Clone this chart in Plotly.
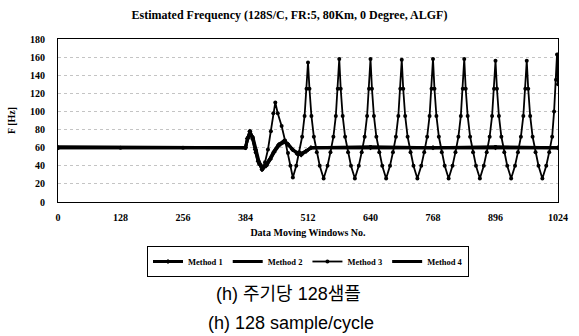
import plotly.graph_objects as go

# ---- data ----
m3_x = [0, 128, 256, 384, 388, 393, 398, 405, 412, 418, 424, 430, 436, 441, 445,
        450, 458, 465, 471, 476, 481,
        488, 494, 500, 505, 509, 512, 515, 519, 524, 530, 536, 544,
        552, 558, 564, 569, 573, 576, 579, 583, 588, 594, 600, 608,
        616, 622, 628, 633, 637, 640, 643, 647, 652, 658, 664, 672,
        680, 686, 692, 697, 701, 704, 707, 711, 716, 722, 728, 736,
        744, 750, 756, 761, 765, 768, 771, 775, 780, 786, 792, 800,
        808, 814, 820, 825, 829, 832, 835, 839, 844, 850, 856, 864,
        872, 878, 884, 889, 893, 896, 899, 903, 908, 914, 920, 928,
        936, 942, 948, 953, 957, 960, 963, 967, 972, 978, 984, 992,
        1000, 1006, 1012, 1016, 1020, 1022, 1024]
m3_y = [60, 60, 60, 60, 70, 78, 70, 55, 42, 36, 44, 58, 78, 98, 110,
        98, 84, 68, 54, 40, 27,
        40, 55, 72, 95, 125, 154, 125, 95, 72, 55, 40, 26,
        40, 55, 72, 95, 125, 158, 125, 95, 72, 55, 40, 26,
        40, 55, 72, 95, 125, 158, 125, 95, 72, 55, 40, 26,
        40, 55, 72, 95, 125, 157, 125, 95, 72, 55, 40, 26,
        40, 55, 72, 95, 125, 158, 125, 95, 72, 55, 40, 26,
        40, 55, 72, 95, 125, 158, 125, 95, 72, 55, 40, 26,
        40, 55, 72, 95, 125, 156, 125, 95, 72, 55, 40, 26,
        40, 55, 72, 95, 125, 156, 125, 95, 72, 55, 40, 26,
        40, 55, 72, 100, 135, 163, 130]

m1_x = [0, 384, 388, 393, 398, 404, 410, 418, 426, 434, 442, 452,
        462, 470, 480, 490, 498, 508, 518, 640, 768, 896, 1024]
m1_y = [60, 60, 70, 78, 72, 58, 45, 36, 40, 47, 55, 63,
        67, 64, 58, 53, 52, 56, 60, 60, 60, 60, 60]

m2_x = [0, 384, 389, 394, 400, 406, 412, 420, 428, 436, 444, 454,
        464, 472, 482, 492, 500, 510, 520, 640, 768, 896, 1024]
m2_y = [60, 60, 71, 76, 70, 56, 44, 38, 41, 48, 56, 63,
        66, 63, 57, 54, 54, 57, 60, 61, 60, 61, 60]

m4_x = [0, 384, 388, 393, 398, 404, 410, 418, 426, 434, 442, 452,
        462, 470, 480, 490, 498, 508, 518, 640, 768, 896, 1024]
m4_y = [61, 60, 69, 77, 71, 57, 44, 37, 41, 48, 56, 64,
        67, 65, 58, 54, 53, 56, 60, 60, 60, 60, 60]

x_ticks = [0, 128, 256, 384, 512, 640, 768, 896, 1024]
y_ticks = [0, 20, 40, 60, 80, 100, 120, 140, 160, 180]

title_text = "Estimated Frequency (128S/C, FR:5, 80Km, 0 Degree, ALGF)"
x_title = "Data Moving Windows No."
y_title = "F [Hz]"
caption1 = "(h) 주기당 128샘플"
caption2 = "(h) 128 sample/cycle"

serif = "Liberation Serif, Times New Roman, serif"
sans = "Liberation Sans, Arial, Noto Sans CJK KR, sans-serif"

fig = go.Figure()
fig.add_trace(go.Scatter(x=m1_x, y=m1_y, name="Method 1", mode="lines+markers",
                         line=dict(color="black", width=3),
                         marker=dict(symbol="diamond", size=4, color="black")))
fig.add_trace(go.Scatter(x=m2_x, y=m2_y, name="Method 2", mode="lines+markers",
                         line=dict(color="black", width=3),
                         marker=dict(symbol="square", size=3, color="black")))
fig.add_trace(go.Scatter(x=m3_x, y=m3_y, name="Method 3", mode="lines+markers",
                         line=dict(color="black", width=1.8),
                         marker=dict(symbol="circle", size=4, color="black")))
fig.add_trace(go.Scatter(x=m4_x, y=m4_y, name="Method 4", mode="lines",
                         line=dict(color="black", width=3)))

axis_font = dict(family=serif, size=10, color="black", weight="bold")

fig.update_layout(
    width=579, height=336,
    margin=dict(l=56, r=11, t=39, b=134),
    paper_bgcolor="white", plot_bgcolor="white",
    showlegend=True,
    title=dict(text=title_text, x=0.5, xref="container", xanchor="center",
               y=1 - 15 / 336, yref="container", yanchor="middle",
               font=dict(family=serif, size=12, color="black", weight="bold")),
    legend=dict(orientation="h", x=0.5, xanchor="center", y=-0.27, yanchor="top",
                bordercolor="black", borderwidth=1, bgcolor="white",
                font=dict(family=serif, size=8.5, color="black", weight="bold"),
                itemwidth=30, tracegroupgap=0),
    xaxis=dict(range=[0, 1024], tickvals=x_ticks,
               showgrid=False, zeroline=False,
               showline=True, linecolor="black", linewidth=1, mirror=True,
               ticks="", tickfont=axis_font, ticklabelstandoff=6,
               title=dict(text=x_title, font=axis_font, standoff=6)),
    yaxis=dict(range=[0, 180], tickvals=y_ticks,
               showgrid=True, gridcolor="#c4c4c4", griddash="dot", gridwidth=1,
               zeroline=False,
               showline=True, linecolor="black", linewidth=1, mirror=True,
               ticks="", tickfont=axis_font, ticklabelstandoff=10,
               title=dict(text=y_title, font=axis_font, standoff=12)),
)

fig.add_annotation(text=caption1, xref="paper", yref="paper",
                   x=(292 - 56) / 512, y=(202 - 294) / 163,
                   xanchor="center", yanchor="middle", showarrow=False,
                   font=dict(family=sans, size=18, color="black"))
fig.add_annotation(text=caption2, xref="paper", yref="paper",
                   x=(295 - 56) / 512, y=(202 - 323) / 163,
                   xanchor="center", yanchor="middle", showarrow=False,
                   font=dict(family=sans, size=18, color="black"))

fig.write_html("out.html", config={"displayModeBar": False},
               post_script="document.body.style.margin='0';document.body.style.overflow='hidden';")
